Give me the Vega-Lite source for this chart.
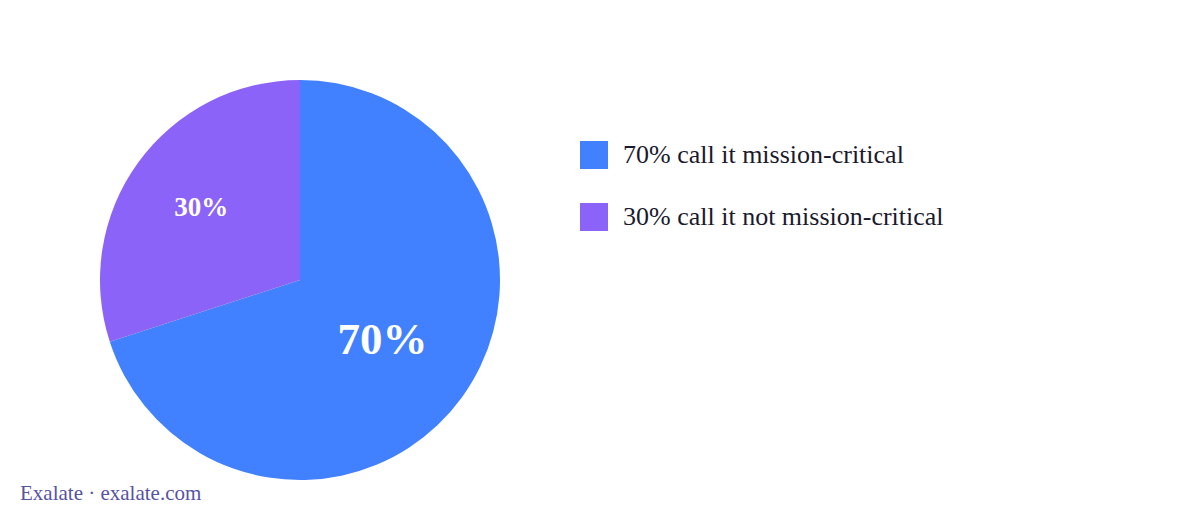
{
  "$schema": "https://vega.github.io/schema/vega-lite/v6.json",
  "width": 1200,
  "height": 480,
  "autosize": "none",
  "padding": {"left": 0, "top": 0, "right": 0, "bottom": 40},
  "background": "white",
  "config": {"view": {"stroke": null}},
  "title": {
    "text": "Exalate · exalate.com",
    "orient": "bottom",
    "anchor": "start",
    "frame": "group",
    "offset": 3,
    "dx": 20,
    "font": "Liberation Serif",
    "fontSize": 21,
    "fontWeight": "normal",
    "color": "#5753a3"
  },
  "data": {
    "values": [
      {"label": "70% call it mission-critical", "value": 70, "text": "70%"},
      {"label": "30% call it not mission-critical", "value": 30, "text": "30%"}
    ]
  },
  "encoding": {
    "theta": {"field": "value", "type": "quantitative", "stack": true},
    "order": {"field": "value", "sort": "descending"},
    "color": {
      "field": "label",
      "type": "nominal",
      "scale": {
        "domain": ["70% call it mission-critical", "30% call it not mission-critical"],
        "range": ["#4181ff", "#8c63f8"]
      },
      "legend": {
        "title": null,
        "orient": "none",
        "legendX": 580,
        "legendY": 141,
        "padding": 0,
        "symbolType": "square",
        "symbolSize": 784,
        "symbolStrokeWidth": 0,
        "symbolOpacity": 1,
        "labelFont": "Liberation Serif",
        "labelFontSize": 26,
        "labelColor": "#1a1a2e",
        "labelOffset": 15,
        "labelLimit": 500,
        "rowPadding": 34
      }
    }
  },
  "layer": [
    {
      "mark": {"type": "arc", "x": 300, "y": 280, "outerRadius": 200}
    },
    {
      "mark": {
        "type": "text",
        "x": 300,
        "y": 280,
        "font": "Liberation Serif",
        "fontWeight": "bold",
        "fill": "white",
        "align": "center",
        "baseline": "middle"
      },
      "encoding": {
        "text": {"field": "text"},
        "color": {"value": "white"},
        "radius": {
          "field": "value",
          "type": "quantitative",
          "scale": {"type": "linear", "domain": [30, 70], "range": [122, 102], "zero": false},
          "legend": null
        },
        "size": {
          "field": "value",
          "type": "quantitative",
          "scale": {"type": "linear", "domain": [30, 70], "range": [27, 45], "zero": false},
          "legend": null
        }
      }
    }
  ]
}
